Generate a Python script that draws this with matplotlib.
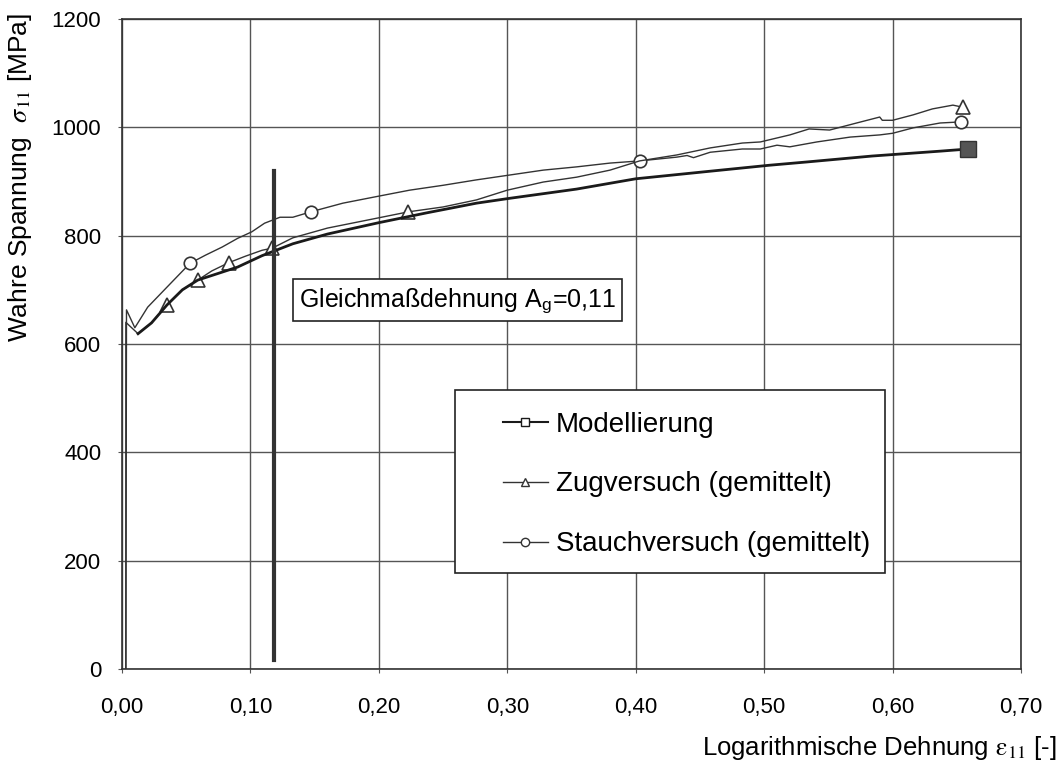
import matplotlib.pyplot as plt
from matplotlib.lines import Line2D
from matplotlib.patches import Rectangle
from matplotlib.ticker import FuncFormatter

plt.rcParams["font.family"] = ["Liberation Sans", "DejaVu Sans"]
plt.rcParams["mathtext.fontset"] = "stix"

# Zugversuch (gemittelt)
zug_x = [0.003, 0.003, 0.0125, 0.023, 0.035, 0.047, 0.059, 0.070, 0.083, 0.096,
         0.109, 0.117, 0.133, 0.160, 0.200, 0.223, 0.250, 0.276, 0.300, 0.328,
         0.354, 0.380, 0.403, 0.432, 0.458, 0.483, 0.497, 0.520, 0.535, 0.551,
         0.572, 0.590, 0.592, 0.600, 0.616, 0.631, 0.647, 0.655]
zug_y = [0, 640, 619, 639, 672, 700, 718, 735, 750, 762,
         773, 777, 796, 814, 833, 844, 853, 866, 884, 899,
         908, 921, 938, 949, 962, 971, 973, 986, 997, 995,
         1008, 1019, 1013, 1013, 1023, 1034, 1041, 1037]
zug_marks = [0.035, 0.059, 0.083, 0.117, 0.223, 0.655]

# Stauchversuch (gemittelt)
stauch_x = [0.003, 0.0035, 0.010, 0.020, 0.033, 0.044, 0.053, 0.065, 0.078, 0.090,
            0.101, 0.111, 0.123, 0.133, 0.147, 0.172, 0.200, 0.224, 0.250, 0.276,
            0.302, 0.328, 0.354, 0.380, 0.403, 0.432, 0.440, 0.445, 0.458, 0.483,
            0.497, 0.510, 0.520, 0.541, 0.567, 0.590, 0.600, 0.616, 0.637, 0.653]
stauch_y = [0, 663, 630, 668, 700, 727, 749, 764, 779, 795,
            807, 823, 834, 834, 844, 860, 873, 884, 893, 903,
            912, 921, 927, 934, 938, 945, 948, 944, 954, 960,
            960, 967, 964, 973, 982, 986, 989, 999, 1008, 1010]
stauch_marks = [0.053, 0.147, 0.403, 0.653]

# Modellierung
model_x = [0.0125, 0.023, 0.035, 0.047, 0.059, 0.090, 0.109, 0.133, 0.160, 0.200,
           0.237, 0.276, 0.302, 0.354, 0.400, 0.458, 0.504, 0.533, 0.584, 0.637, 0.659]
model_y = [619, 639, 672, 700, 718, 742, 763, 785, 803, 824,
           842, 860, 869, 886, 905, 919, 930, 936, 947, 956, 960]

ag = 0.118

fig = plt.figure(figsize=(10.59, 7.63), dpi=100)
ax = fig.add_axes([0.1152, 0.1232, 0.8489, 0.8519])

ax.plot(stauch_x, stauch_y, color="#333333", lw=1.0, marker="o", ms=9,
        mfc="white", mec="#333333", mew=1.2,
        markevery=[stauch_x.index(v) for v in stauch_marks], zorder=3)
ax.plot(zug_x, zug_y, color="#333333", lw=1.0, marker="^", ms=10,
        mfc="white", mec="#333333", mew=1.2,
        markevery=[zug_x.index(v) for v in zug_marks], zorder=3)
ax.plot(model_x, model_y, color="#1a1a1a", lw=2.0, marker="s", ms=11,
        mfc="#555555", mec="#333333", markevery=[len(model_x) - 1], zorder=4)

# Gleichmassdehnung
ax.plot([ag, ag], [17, 919], color="#333333", lw=3, zorder=5)
ax.text(0.138, 681, "Gleichmaßdehnung A$_\\mathregular{g}$=0,11", fontsize=18,
        va="center", ha="left", zorder=6,
        bbox=dict(boxstyle="square,pad=0.25", fc="white", ec="#222222", lw=1.2))

ax.set_xlim(0, 0.70)
ax.set_ylim(0, 1200)
ax.set_xticks([0, 0.1, 0.2, 0.3, 0.4, 0.5, 0.6, 0.7])
ax.set_yticks(range(0, 1201, 200))
ax.xaxis.set_major_formatter(FuncFormatter(lambda v, p: f"{v:.2f}".replace(".", ",")))
ax.grid(True, color="#555555", lw=1.0)
ax.set_axisbelow(True)
for s in ax.spines.values():
    s.set_color("#333333")
    s.set_linewidth(1.2)
ax.tick_params(axis="both", labelsize=16, length=3, color="#555555")
ax.tick_params(axis="x", pad=17)
ax.tick_params(axis="y", pad=12)

ax.set_ylabel("Wahre Spannung  $\\sigma_{11}$ [MPa]", fontsize=19, loc="top")
ax.yaxis.set_label_coords(-0.098, 1.01)
ax.set_xlabel("Logarithmische Dehnung $\\mathrm{\\varepsilon}_{11}$ [-]", fontsize=18.5, loc="right")
ax.xaxis.set_label_coords(1.04, -0.10)

# legend box
ax.add_patch(Rectangle((0.370, 0.148), 0.479, 0.281, transform=ax.transAxes,
                       fc="white", ec="#222222", lw=1.2, zorder=6))
handles = [
    Line2D([], [], color="#1a1a1a", lw=1.5, marker="s", ms=6, mfc="white", mec="#1a1a1a"),
    Line2D([], [], color="#333333", lw=1.0, marker="^", ms=6, mfc="white", mec="#333333"),
    Line2D([], [], color="#333333", lw=1.0, marker="o", ms=6, mfc="white", mec="#333333"),
]
labels = ["Modellierung", "Zugversuch (gemittelt)", "Stauchversuch (gemittelt)"]
leg = ax.legend(handles, labels, loc="center left", bbox_to_anchor=(0.424, 0.284),
                frameon=False, fontsize=20, handlelength=1.6, handletextpad=0.3,
                labelspacing=1.22, borderpad=0, borderaxespad=0)
leg.set_zorder(7)

fig.savefig("out.png", dpi=100)
